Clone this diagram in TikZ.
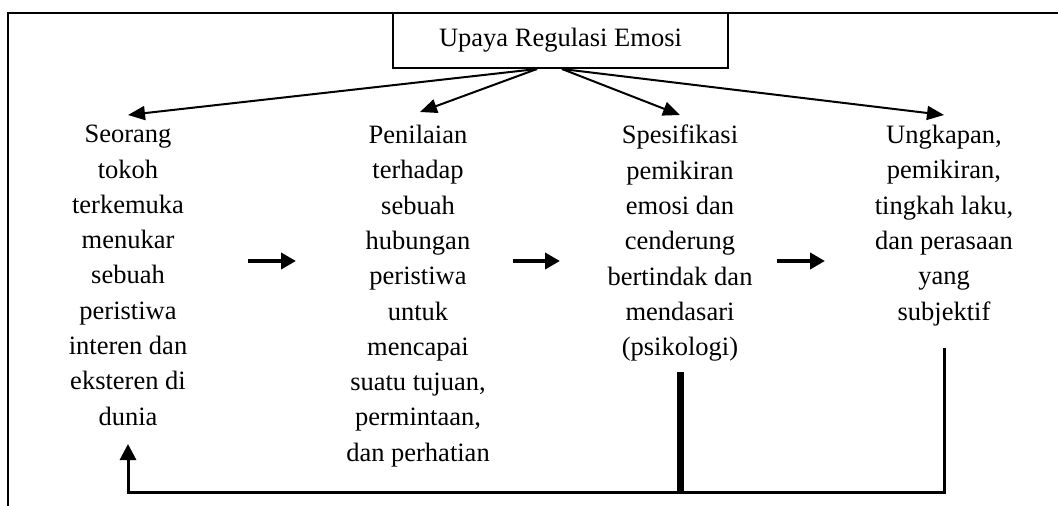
\documentclass[tikz,border=0pt]{standalone}
\usepackage{fontspec}
\setmainfont{Liberation Serif}
\usetikzlibrary{arrows.meta,calc}
\begin{document}
\begin{tikzpicture}[x=1pt,y=-1pt,
  coltext/.style={align=center,font=\fontsize{26.5}{35.3}\selectfont,inner sep=0pt,anchor=north},
  topbox/.style={draw,line width=2pt,minimum width=335pt,minimum height=55pt,inner sep=0pt,font=\fontsize{26.5}{32}\selectfont},
  fanarrow/.style={line width=2pt,-{Triangle[length=17pt,width=14pt]}},
  flowarrow/.style={line width=4pt,-{Triangle[length=15pt,width=16pt]}},
  loopline/.style={line width=3pt},
  thickbar/.style={line width=7pt},
  frameline/.style={line width=2pt}]
\useasboundingbox (0,0) rectangle (1058,506);
% frame (open to right and bottom)
\draw[frameline] (8,506) -- (8,12.5) -- (1058,12.5);
% top box
\node[topbox] (top) at (560.5,40.5) {Upaya Regulasi Emosi};
% columns
\node[coltext] (c1) at (128,125) {Seorang\\tokoh\\terkemuka\\menukar\\sebuah\\peristiwa\\interen dan\\eksteren di\\dunia};
\node[coltext] (c2) at (418,125) {Penilaian\\terhadap\\sebuah\\hubungan\\peristiwa\\untuk\\mencapai\\suatu tujuan,\\permintaan,\\dan perhatian};
\node[coltext] (c3) at (680,125) {Spesifikasi\\pemikiran\\emosi dan\\cenderung\\bertindak dan\\mendasari\\(psikologi)};
\node[coltext] (c4) at (944,125) {Ungkapan,\\pemikiran,\\tingkah laku,\\dan perasaan\\yang\\subjektif};
% fan arrows
\draw[fanarrow] ([xshift=-23.5pt]top.south) -- ([yshift=10pt]c1.north);
\draw[fanarrow] ([xshift=-23.5pt]top.south) -- ([xshift=2pt,yshift=13pt]c2.north);
\draw[fanarrow] ([xshift=1.5pt]top.south) -- ([yshift=10pt]c3.north);
\draw[fanarrow] ([xshift=1.5pt]top.south) -- ([yshift=10pt]c4.north);
% flow arrows between columns
\coordinate (h1a) at (248,261); \coordinate (h1b) at (296,261);
\coordinate (h2a) at (513,261); \coordinate (h2b) at (560,261);
\coordinate (h3a) at (777,261); \coordinate (h3b) at (825,261);
\draw[flowarrow] (h1a) -- (h1b);
\draw[flowarrow] (h2a) -- (h2b);
\draw[flowarrow] (h3a) -- (h3b);
% feedback loop
\coordinate (lpR) at (944,348);
\coordinate (lpB) at (944,492);
\coordinate (lpL) at (128,444);
\coordinate (barT) at (680,372);
\coordinate (barB) at (680,492);
\draw[thickbar] (barT) -- (barB);
\draw[loopline,-{Triangle[length=16pt,width=16pt]}] (lpR) -- (lpB) -| (lpL);
\end{tikzpicture}
\end{document}
